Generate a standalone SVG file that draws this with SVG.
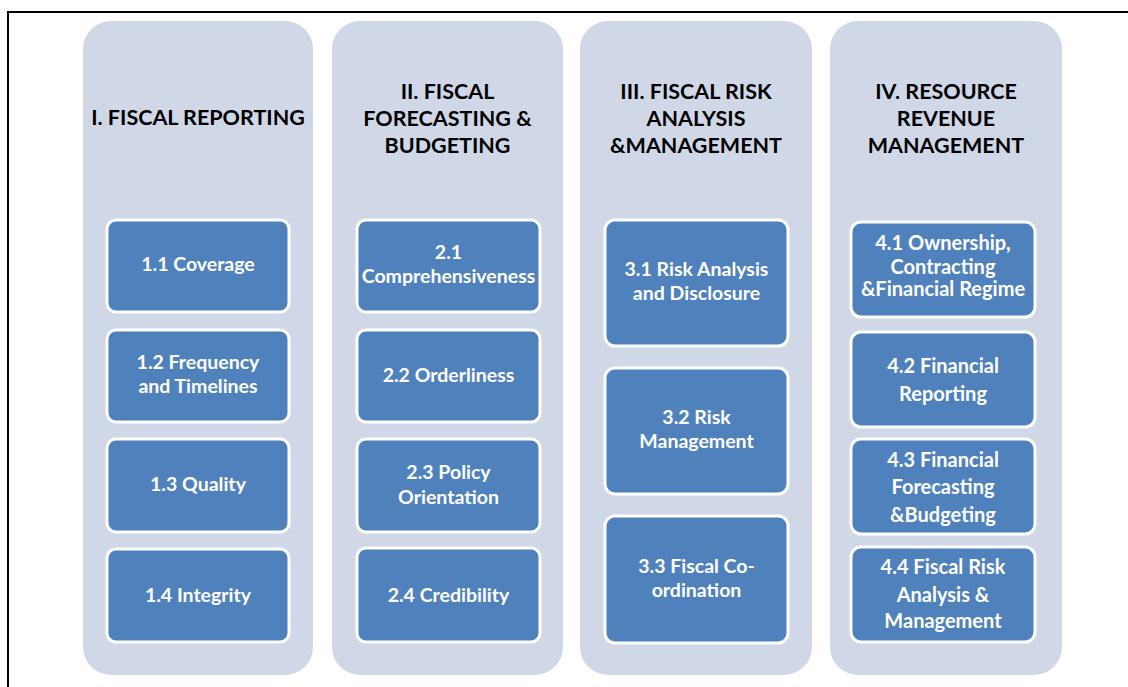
<svg xmlns="http://www.w3.org/2000/svg" width="1128" height="687" viewBox="0 0 1128 687">
<style>
.col{fill:#D0D8E8;}
.box{fill:#4F81BD;stroke:#FFFFFF;stroke-width:3;}
.hd{font-family:Lato,"Open Sans","Liberation Sans",sans-serif;font-weight:bold;font-size:21.5px;fill:#000;text-anchor:middle;}
.bt{font-family:Lato,"Open Sans","Liberation Sans",sans-serif;font-weight:bold;font-size:19.5px;fill:#FFF;text-anchor:middle;}
.bt4{font-family:Lato,"Open Sans","Liberation Sans",sans-serif;font-weight:bold;font-size:20px;fill:#FFF;text-anchor:middle;}
</style>
<rect width="1128" height="687" fill="#FFFFFF"/>
<path d="M8,687 L8,12 L1128,12" fill="none" stroke="#000" stroke-width="2"/>

<g id="col1">
<rect class="col" x="83" y="21" width="230" height="654" rx="28"/>
<text class="hd" x="198" y="125">I. FISCAL REPORTING</text>
</g>
<g id="col2">
<rect class="col" x="332" y="21" width="231" height="654" rx="28"/>
<text class="hd" x="447.5" y="99">II. FISCAL</text>
<text class="hd" x="447.5" y="126">FORECASTING &amp;</text>
<text class="hd" x="447.5" y="153">BUDGETING</text>
</g>
<g id="col3">
<rect class="col" x="580" y="21" width="232" height="654" rx="28"/>
<text class="hd" x="696" y="99">III. FISCAL RISK</text>
<text class="hd" x="696" y="126">ANALYSIS</text>
<text class="hd" x="696" y="153">&amp;MANAGEMENT</text>
</g>
<g id="col4">
<rect class="col" x="830" y="21" width="232" height="654" rx="28"/>
<text class="hd" x="946" y="99">IV. RESOURCE</text>
<text class="hd" x="946" y="126">REVENUE</text>
<text class="hd" x="946" y="153">MANAGEMENT</text>
</g>

<g id="n11"><rect class="box" x="107" y="220" width="182" height="92" rx="9"/><text class="bt" x="198" y="271">1.1 Coverage</text></g>
<g id="n12"><rect class="box" x="107" y="330" width="182" height="92" rx="9"/><text class="bt" x="198" y="369">1.2 Frequency</text><text class="bt" x="198" y="393">and Timelines</text></g>
<g id="n13"><rect class="box" x="107" y="439" width="182" height="93" rx="9"/><text class="bt" x="198" y="491">1.3 Quality</text></g>
<g id="n14"><rect class="box" x="107" y="549" width="182" height="93" rx="9"/><text class="bt" x="198" y="602">1.4 Integrity</text></g>

<g id="n21"><rect class="box" x="357" y="220" width="183" height="92" rx="9"/><text class="bt" x="448.5" y="259">2.1</text><text class="bt" x="448.5" y="283">Comprehensiveness</text></g>
<g id="n22"><rect class="box" x="357" y="330" width="183" height="92" rx="9"/><text class="bt" x="448.5" y="382">2.2 Orderliness</text></g>
<g id="n23"><rect class="box" x="357" y="439" width="183" height="93" rx="9"/><text class="bt" x="448.5" y="479">2.3 Policy</text><text class="bt" x="448.5" y="504">Orientation</text></g>
<g id="n24"><rect class="box" x="357" y="548" width="183" height="94" rx="9"/><text class="bt" x="448.5" y="602">2.4 Credibility</text></g>

<g id="n31"><rect class="box" x="605" y="220" width="183" height="126" rx="10"/><text class="bt" x="696.5" y="276">3.1 Risk Analysis</text><text class="bt" x="696.5" y="300">and Disclosure</text></g>
<g id="n32"><rect class="box" x="605" y="368" width="183" height="126" rx="10"/><text class="bt" x="696.5" y="424">3.2 Risk</text><text class="bt" x="696.5" y="448">Management</text></g>
<g id="n33"><rect class="box" x="605" y="516" width="183" height="127" rx="10"/><text class="bt" x="696.5" y="573">3.3 Fiscal Co-</text><text class="bt" x="696.5" y="597">ordination</text></g>

<g id="n41"><rect class="box" x="851" y="222" width="184" height="95" rx="10"/><text class="bt4" x="943" y="250">4.1 Ownership,</text><text class="bt4" x="943" y="274">Contracting</text><text class="bt4" x="943" y="296">&amp;Financial Regime</text></g>
<g id="n42"><rect class="box" x="851" y="332" width="184" height="95" rx="10"/><text class="bt4" x="943" y="373">4.2 Financial</text><text class="bt4" x="943" y="401">Reporting</text></g>
<g id="n43"><rect class="box" x="851" y="439" width="184" height="95" rx="10"/><text class="bt4" x="943" y="467">4.3 Financial</text><text class="bt4" x="943" y="494">Forecasting</text><text class="bt4" x="943" y="522">&amp;Budgeting</text></g>
<g id="n44"><rect class="box" x="851" y="547" width="184" height="95" rx="10"/><text class="bt4" x="943" y="574">4.4 Fiscal Risk</text><text class="bt4" x="943" y="602">Analysis &amp;</text><text class="bt4" x="943" y="628">Management</text></g>
</svg>
